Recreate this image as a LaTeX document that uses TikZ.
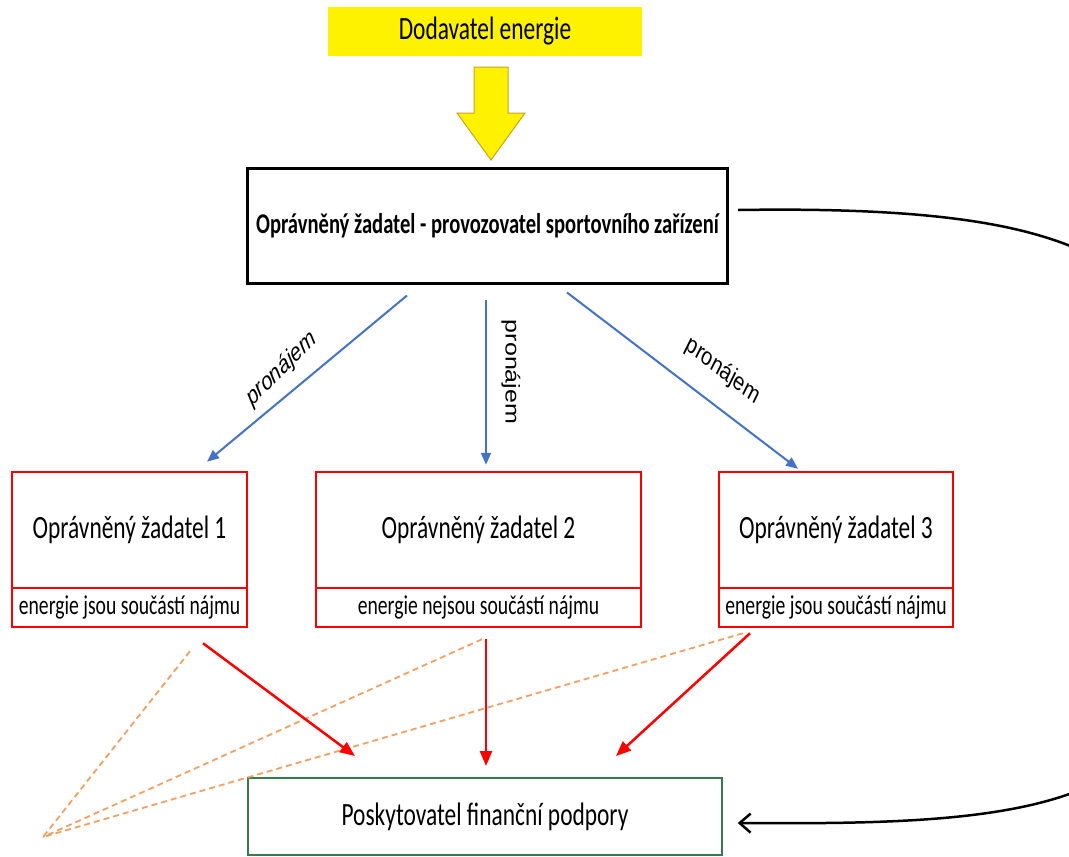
\documentclass[tikz,border=0pt]{standalone}
\usepackage{fontspec}
\setmainfont{Carlito}
\newfontfamily\arialfont{Liberation Sans}
\usetikzlibrary{arrows.meta}
\definecolor{arrowgold}{HTML}{C9A227}
\definecolor{pronajemblue}{HTML}{4472C4}
\definecolor{dashorange}{HTML}{F2A064}
\definecolor{boxgreen}{HTML}{357A4C}

\begin{document}
\begin{tikzpicture}[x=1pt,y=-1pt]
  \useasboundingbox (0,0) rectangle (1069,857);
  \clip (0,0) rectangle (1069,857);
  \tikzstyle{narrow}=[xscale=0.72,transform shape,inner sep=0pt]
  \tikzstyle{BigText}=[font=\fontsize{32.5}{38}\selectfont]
  \tikzstyle{SmallText}=[font=\fontsize{27.3}{32}\selectfont]
  \tikzstyle{RedBox}=[narrow,draw=red,line width=2.5pt]
  \tikzstyle{BlueArrow}=[draw=pronajemblue,line width=2pt,-{Triangle[length=12pt,width=10pt]}]
  \tikzstyle{RedArrow}=[draw=red,line width=2.5pt,-{Triangle[length=15pt,width=12pt]}]
  \tikzstyle{DashLine}=[draw=dashorange,line width=1.8pt,dash pattern=on 6pt off 4pt]
  \tikzstyle{Pronajem}=[xscale=0.8,transform shape,inner sep=0pt,font=\arialfont\fontsize{25}{30}\selectfont]
  \node[narrow,BigText,fill=yellow,minimum width=436.1pt,minimum height=49pt] (dodavatel) at (485,31.5) {Dodavatel energie};
  \draw[draw=arrowgold,fill=yellow,line width=1pt] (474,67) -- (508,67) -- (508,113) -- (525,113)
    -- (491,160) -- (457,113) -- (474,113) -- cycle;
  \node[narrow,draw,line width=3pt,minimum width=665.3pt,minimum height=115pt,
    font=\bfseries\fontsize{28.6}{33}\selectfont] (provozovatel) at (487.5,225.5)
    {Oprávněný žadatel - provozovatel sportovního zařízení};
  \node[RedBox,BigText,minimum width=326.4pt,minimum height=116pt] (zadatel1) at (129.5,530) {Oprávněný žadatel 1};
  \node[RedBox,SmallText,minimum width=326.4pt,minimum height=39pt] (najem1) at (129.5,607.5) {energie jsou součástí nájmu};
  \node[RedBox,BigText,minimum width=451.4pt,minimum height=116pt] (zadatel2) at (478.5,530) {Oprávněný žadatel 2};
  \node[RedBox,SmallText,minimum width=451.4pt,minimum height=39pt] (najem2) at (478.5,607.5) {energie nejsou součástí nájmu};
  \node[RedBox,BigText,minimum width=325pt,minimum height=116pt] (zadatel3) at (836,530) {Oprávněný žadatel 3};
  \node[RedBox,SmallText,minimum width=325pt,minimum height=39pt] (najem3) at (836,607.5) {energie jsou součástí nájmu};
  \node[narrow,BigText,draw=boxgreen,line width=2pt,minimum width=658.3pt,minimum height=77pt] (poskytovatel) at (485,816.5) {Poskytovatel finanční podpory};
  \coordinate (sammel) at (43,837);
  \draw[BlueArrow] ([xshift=-80.5pt,yshift=-11pt]provozovatel.south) -- ([xshift=77.5pt,yshift=9pt]zadatel1.north);
  \draw[BlueArrow] ([xshift=-1.5pt,yshift=-15pt]provozovatel.south) -- ([xshift=7.5pt,yshift=6pt]zadatel2.north);
  \draw[BlueArrow] ([xshift=79.5pt,yshift=-8pt]provozovatel.south) -- ([xshift=-38pt,yshift=2pt]zadatel3.north);
  \node[Pronajem,rotate=38.4] (pronajem1) at (281.5,369) {\itshape pronájem};
  \node[Pronajem,rotate=-90] (pronajem2) at (511,372) {pronájem};
  \node[Pronajem,rotate=-32] (pronajem3) at (723,371) {pronájem};
  \draw[DashLine] ([xshift=60.5pt,yshift=-23pt]najem1.south) -- (sammel);
  \draw[DashLine] ([xshift=3.5pt,yshift=-11pt]najem2.south) -- (sammel);
  \draw[DashLine] ([xshift=-93pt,yshift=-5pt]najem3.south) -- (sammel);
  \draw[RedArrow] ([xshift=73.5pt,yshift=-15pt]najem1.south) -- ([xshift=-130pt,yshift=21pt]poskytovatel.north);
  \draw[RedArrow] ([xshift=7.5pt,yshift=-11pt]najem2.south) -- ([xshift=1pt,yshift=11pt]poskytovatel.north);
  \draw[RedArrow] ([xshift=-86pt,yshift=-5pt]najem3.south) -- ([xshift=131pt,yshift=21pt]poskytovatel.north);
  \draw[line width=2.5pt,-{Straight Barb[length=11pt,width=19pt]}] ([xshift=10pt,yshift=15.5pt]provozovatel.east)
    .. controls (930,207) and (1020,224) .. (1080,250)
    .. controls (1200,302) and (1200,742) .. (1080,790)
    .. controls (1000,822) and (880,824) .. ([xshift=15pt,yshift=-6.5pt]poskytovatel.east);
\end{tikzpicture}
\end{document}
